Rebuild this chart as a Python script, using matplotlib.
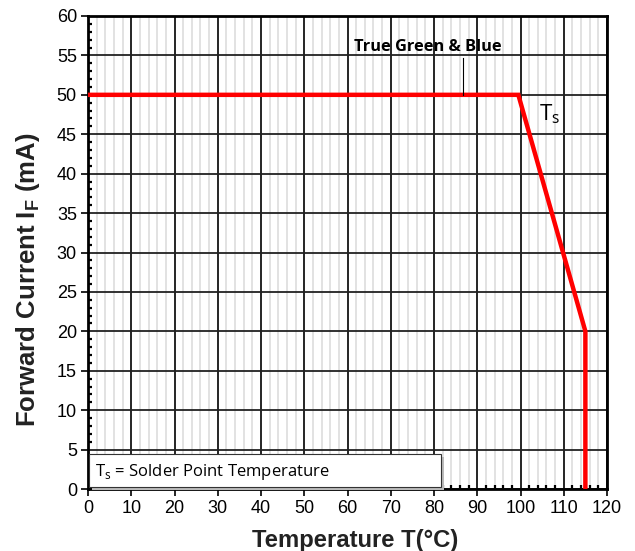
import matplotlib.pyplot as plt
import numpy as np
from matplotlib.patches import Rectangle
from matplotlib.ticker import MultipleLocator

# derating curve (True Green & Blue)
temp_c = [0, 99.5, 115, 115]
current_ma = [50, 50, 20, 0]

x_ticks = np.arange(0, 121, 10)
y_ticks = np.arange(0, 61, 5)

fig = plt.figure(figsize=(6.35, 5.51), dpi=100)
ax = fig.add_axes([88 / 635, 1 - 489 / 551, 519 / 635, 473 / 551])

ax.set_xlim(0, 120)
ax.set_ylim(0, 60)
ax.set_xticks(x_ticks)
ax.set_yticks(y_ticks)
ax.xaxis.set_minor_locator(MultipleLocator(2))
ax.yaxis.set_minor_locator(MultipleLocator(1))

# grid: light minor verticals, black majors
ax.grid(True, which='minor', axis='x', color='#dddddd', lw=1.2)
ax.grid(True, which='major', axis='x', color='black', lw=1.2)
ax.grid(True, which='major', axis='y', color='#222222', lw=1.3)
ax.set_axisbelow(True)

ax.tick_params(which='major', direction='out', length=5, width=1.2,
               labelsize=13, pad=3)
ax.tick_params(which='minor', direction='in', length=3, width=1.6)
for lab in ax.get_xticklabels() + ax.get_yticklabels():
    lab.set_fontfamily('Liberation Sans')
for s in ax.spines.values():
    s.set_linewidth(2)
    s.set_color('black')

ax.plot(temp_c, current_ma, color='red', lw=3.2, solid_joinstyle='miter', zorder=5)

ax.set_xlabel('Temperature T(°C)', fontsize=17.2, fontweight='bold',
              family='Liberation Sans', color='#222222')
ax.set_ylabel('Forward Current I$_\\mathregular{F}$ (mA)', fontsize=18.5, fontweight='bold',
              family='Liberation Sans', color='#222222')
ax.xaxis.set_label_coords(0.514, -0.085)
ax.yaxis.set_label_coords(-0.088, 0.442)

# annotations
ax.text(78.6, 55.1, 'True Green & Blue', fontsize=11.8, fontweight='bold',
        family='Open Sans', ha='center', va='bottom', zorder=6)
ax.plot([86.7, 86.7], [54.7, 50], color='black', lw=0.8, zorder=6)
ax.text(104.3, 47.6, 'T$_\\mathregular{s}$', fontsize=16, family='Open Sans',
        ha='left', va='center', zorder=6)

# legend-like box
ax.add_patch(Rectangle((0.9, -0.1), 81.4, 4.2, facecolor='#bbbbbb',
                       edgecolor='none', zorder=6, clip_on=False))
ax.add_patch(Rectangle((0.3, 0.2), 81.4, 4.2, facecolor='white',
                       edgecolor='#333333', lw=0.8, zorder=7, clip_on=False))
ax.text(1.7, 2.2, 'T$_\\mathregular{s}$ = Solder Point Temperature', fontsize=12,
        family='Open Sans', ha='left', va='center', zorder=8)

fig.savefig('out.png', dpi=100)
